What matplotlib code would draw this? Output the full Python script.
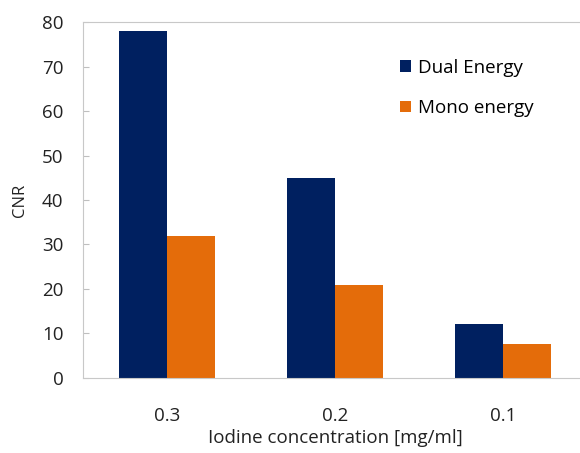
import numpy as np
import matplotlib.pyplot as plt

plt.rcParams['font.family'] = ['Open Sans', 'DejaVu Sans']

categories = ['0.3', '0.2', '0.1']
dual_energy = [78, 45, 12]
mono_energy = [32, 20.8, 7.6]

fig = plt.figure(figsize=(5.8, 4.53), dpi=100)
ax = fig.add_axes([0.143, 0.166, 0.869, 0.785])

x = np.arange(len(categories))
w = 0.286
ax.bar(x - w / 2, dual_energy, w, color='#002060', label='Dual Energy')
ax.bar(x + w / 2, mono_energy, w, color='#E46C0A', label='Mono energy')

ax.set_xlim(-0.5, 2.5)
ax.set_ylim(0, 80)
ax.set_yticks(range(0, 81, 10))
ax.set_xticks(x)
ax.set_xticklabels(categories)
ax.set_ylabel('CNR', fontsize=12, color='#222222', labelpad=10)
ax.set_xlabel('Iodine concentration [mg/ml]', fontsize=13.5, color='#222222', labelpad=3)
ax.tick_params(axis='y', direction='in', length=4, color='#BFBFBF', labelsize=13.5, labelcolor='#222222', pad=14)
ax.tick_params(axis='x', length=0, labelsize=13.5, labelcolor='#222222', pad=21)
for s in ax.spines.values():
    s.set_color('#C8C8C8')
ax.spines['right'].set_visible(False)

ax.legend(loc='upper left', bbox_to_anchor=(0.595, 0.945), frameon=False, fontsize=13.5,
          handlelength=0.6, handleheight=0.6, handletextpad=0.4, labelspacing=1.2)

fig.savefig('out.png', dpi=100)
